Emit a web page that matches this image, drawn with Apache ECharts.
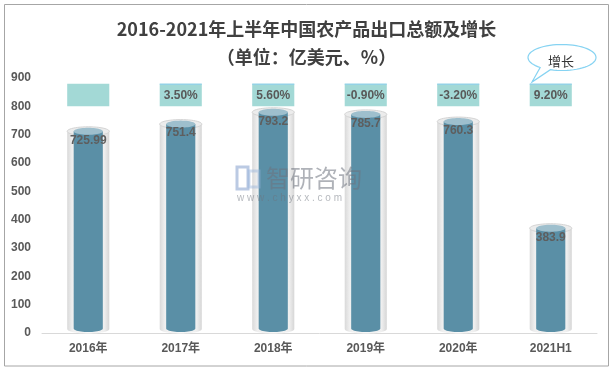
<!DOCTYPE html>
<html>
<head>
<meta charset="utf-8">
<script src="https://cdn.jsdelivr.net/npm/echarts@6/dist/echarts.min.js"></script>
<style>
html,body{margin:0;padding:0;background:#fff;}
#chart{width:613px;height:371px;}
</style>
</head>
<body>
<div id="chart"></div>
<script>
const categories = ['2016年', '2017年', '2018年', '2019年', '2020年', '2021H1'];
const exportValues = [725.99, 751.4, 793.2, 785.7, 760.3, 383.9];
const growthLabels = ['', '3.50%', '5.60%', '-0.90%', '-3.20%', '9.20%'];
const yTicks = [0, 900, 100]; // min, max, interval
const BOX_LOW = 800;
const BOX_HIGH = 880;

const TEXT_FONT = '"Liberation Sans", Arial, "Noto Sans CJK SC", sans-serif';
const CJK_FONT = '"Noto Sans CJK SC", "Liberation Sans", sans-serif';

const chart = echarts.init(document.getElementById('chart'), null, {renderer: 'canvas'});

function ellipsePts(cx, cy, rx, ry, a0, a1, n) {
  const pts = [];
  a0 = a0 === undefined ? 0 : a0;
  a1 = a1 === undefined ? Math.PI * 2 : a1;
  n = n || 48;
  for (let k = 0; k <= n; k++) {
    const a = a0 + (a1 - a0) * k / n;
    pts.push([cx + rx * Math.cos(a), cy + ry * Math.sin(a)]);
  }
  return pts;
}

function cylinder(params, api) {
  const idx = api.value(0);
  const val = api.value(1);
  const top = api.coord([idx, val]);
  const base = api.coord([idx, 0]);
  const cx = top[0];
  const bandW = api.size([1, 0])[0];
  const ow = bandW * 0.455;
  const iw = bandW * 0.315;
  const ty = top[1] + 4;
  const by = base[1] - 4;
  const glassFill = new echarts.graphic.LinearGradient(0, 0, 1, 0, [
    {offset: 0, color: '#d9d9d9'},
    {offset: 0.12, color: '#efefef'},
    {offset: 0.5, color: '#f8f8f8'},
    {offset: 0.88, color: '#efefef'},
    {offset: 1, color: '#d6d6d6'}
  ]);
  // glass body: top edge straight, bottom half ellipse
  const glassBody = [[cx - ow / 2, ty], [cx + ow / 2, ty]].concat(ellipsePts(cx, by, ow / 2, 4.5, 0, Math.PI, 24));
  const innerBody = [[cx - iw / 2, ty], [cx + iw / 2, ty]].concat(ellipsePts(cx, by - 0.5, iw / 2, 3.5, 0, Math.PI, 24));
  return {
    type: 'group',
    children: [
      {type: 'polygon', shape: {points: glassBody}, style: {fill: glassFill}},
      {type: 'polygon', shape: {points: ellipsePts(cx, ty, ow / 2, 4.5)}, style: {fill: '#ececec', stroke: '#d4d4d4', lineWidth: 1}},
      {type: 'polygon', shape: {points: innerBody}, style: {fill: '#5a8fa6'}},
      {type: 'polygon', shape: {points: ellipsePts(cx, ty, iw / 2, 3.5)}, style: {fill: '#9ebfcd'}},
      {type: 'text', x: cx, y: top[1] + 13, style: {
        text: String(exportValues[params.dataIndex]), fill: '#5e5e5e',
        font: 'bold 12px ' + TEXT_FONT, align: 'center', verticalAlign: 'middle'}}
    ]
  };
}

function growthBox(params, api) {
  const idx = api.value(0);
  const hi = api.coord([idx, BOX_HIGH]);
  const lo = api.coord([idx, BOX_LOW]);
  const bandW = api.size([1, 0])[0];
  const w = bandW * 0.455;
  const label = growthLabels[params.dataIndex];
  const children = [
    {type: 'rect', shape: {x: hi[0] - w / 2, y: hi[1], width: w, height: lo[1] - hi[1]}, style: {fill: '#a3d9d6'}}
  ];
  if (label) {
    children.push({type: 'line', shape: {x1: hi[0] - w / 2, y1: hi[1] + 0.5, x2: hi[0] + w / 2, y2: hi[1] + 0.5}, style: {stroke: '#8ccfee', lineWidth: 1}});
    children.push({type: 'text', x: hi[0], y: (hi[1] + lo[1]) / 2 + 1, style: {
      text: label, fill: '#595959', font: 'bold 12px ' + TEXT_FONT, align: 'center', verticalAlign: 'middle'}});
  }
  return {type: 'group', children: children};
}

// callout bubble outline: ellipse with a tail
const bubblePts = (function () {
  const cx = 562, cy = 57.5, rx = 34, ry = 13;
  const aStart = 110 * Math.PI / 180;
  const aEnd = (130 - 360) * Math.PI / 180;
  const pts = ellipsePts(cx, cy, rx, ry, aStart, aEnd, 60);
  pts.push([532, 82]);
  return pts;
})();

const option = {
  backgroundColor: '#ffffff',
  animation: false,
  title: [
    {text: '2016-2021年上半年中国农产品出口总额及增长', left: 'center', top: 18, padding: 0,
     textStyle: {fontSize: 18, fontWeight: 'bold', color: '#404040', fontFamily: CJK_FONT, lineHeight: 22}},
    {text: '（单位：亿美元、%）', left: 'center', top: 46, padding: 0,
     textStyle: {fontSize: 18, fontWeight: 'bold', color: '#404040', fontFamily: CJK_FONT, lineHeight: 22}}
  ],
  grid: {left: 42, right: 16, top: 78, bottom: 38, containLabel: false},
  xAxis: {
    type: 'category',
    data: categories,
    boundaryGap: true,
    axisTick: {show: false},
    axisLine: {lineStyle: {color: '#d9d9d9', width: 1}},
    axisLabel: {margin: 10, fontSize: 12, fontWeight: 'bold', color: '#595959', fontFamily: TEXT_FONT}
  },
  yAxis: {
    type: 'value',
    min: yTicks[0], max: yTicks[1], interval: yTicks[2],
    splitLine: {show: false},
    axisLine: {show: false},
    axisTick: {show: false},
    axisLabel: {margin: 11, fontSize: 12, fontWeight: 'bold', color: '#595959', fontFamily: TEXT_FONT}
  },
  graphic: [
    {type: 'rect', z: 100, silent: true, shape: {x: 4.5, y: 4.5, width: 604, height: 361.5},
     style: {fill: 'none', stroke: '#a6a6a6', lineWidth: 1}},
    {type: 'rect', z: 50, silent: true, shape: {x: 237, y: 167, width: 11, height: 22}, style: {fill: 'none', stroke: 'rgba(120,150,200,0.5)', lineWidth: 3}},
    {type: 'rect', z: 50, silent: true, shape: {x: 249, y: 171, width: 10, height: 16}, style: {fill: 'none', stroke: 'rgba(150,180,220,0.45)', lineWidth: 3}},
    {type: 'text', z: 50, silent: true, x: 266, y: 178, style: {text: '智研咨询', font: '24px ' + CJK_FONT, fill: 'rgba(110,115,125,0.55)', verticalAlign: 'middle'}},
    {type: 'text', z: 50, silent: true, x: 237, y: 198, style: {text: 'w w w . c h y x x . c o m', font: '10px ' + TEXT_FONT, fill: 'rgba(110,115,125,0.5)', verticalAlign: 'middle'}},
    {type: 'polygon', z: 60, silent: true, shape: {points: bubblePts},
     style: {fill: '#ffffff', stroke: '#86d3f2', lineWidth: 1.2}},
    {type: 'text', z: 61, silent: true, x: 561, y: 61,
     style: {text: '增长', font: '13px ' + CJK_FONT, fill: '#333333', align: 'center', verticalAlign: 'middle'}}
  ],
  series: [
    {
      type: 'custom',
      name: 'growth',
      renderItem: growthBox,
      clip: false,
      encode: {x: 0, y: 1},
      data: categories.map((c, i) => [i, BOX_HIGH])
    },
    {
      type: 'custom',
      name: 'export',
      renderItem: cylinder,
      clip: false,
      encode: {x: 0, y: 1},
      data: exportValues.map((v, i) => [i, v])
    }
  ]
};
chart.setOption(option);
</script>
</body>
</html>
